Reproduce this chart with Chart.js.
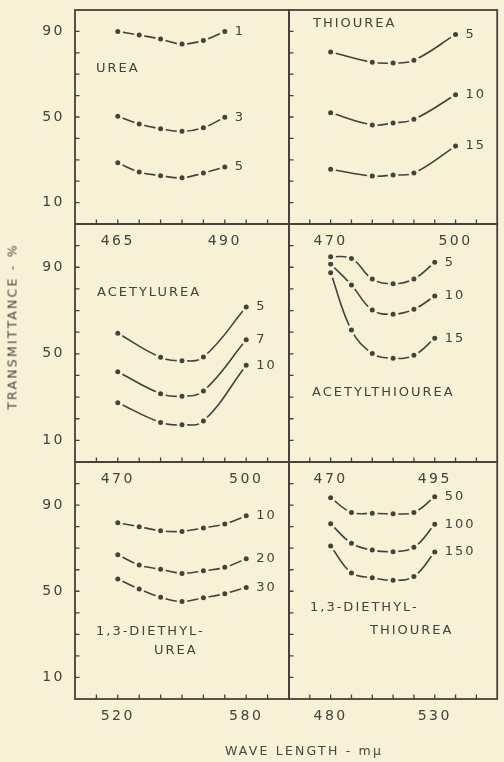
<!DOCTYPE html>
<html>
<head>
<meta charset="utf-8">
<script src="https://cdn.jsdelivr.net/npm/chart.js@4.4.1/dist/chart.umd.min.js"></script>
<style>
  html, body { margin: 0; padding: 0; background: #f7f1d6; }
  #wrap { position: relative; width: 504px; height: 762px; overflow: hidden; }
  #wrap canvas { position: absolute; left: 0; top: 0; }
  .axt { position: absolute; font-family: 'DejaVu Sans'; font-size: 12.5px; letter-spacing: 2.2px; color: #4a4540; text-align: center; white-space: nowrap; }
  #ytitle { left: -88px; top: 319px; width: 200px; transform: rotate(-90deg); }
  #xtitle { left: 154px; top: 743px; width: 300px; }
</style>
</head>
<body>
<div id="wrap">
  <canvas id="c0" width="504" height="762"></canvas>
  <canvas id="c1" width="504" height="762"></canvas>
  <canvas id="c2" width="504" height="762"></canvas>
  <canvas id="c3" width="504" height="762"></canvas>
  <canvas id="c4" width="504" height="762"></canvas>
  <canvas id="c5" width="504" height="762"></canvas>
  <div class="axt" id="ytitle">TRANSMITTANCE - %</div>
  <div class="axt" id="xtitle">WAVE LENGTH - mμ</div>
</div>
<script>
// wave length (mu) and transmittance (%)
const ureaWave = [465, 470, 475, 480, 485, 490];
const urea1 = [90, 88.3, 86.4, 84.1, 85.8, 90];
const urea3 = [50.3, 46.7, 44.5, 43.3, 45.0, 49.9];
const urea5 = [28.6, 24.3, 22.6, 21.6, 23.8, 26.6];

const thioWave = [470, 480, 485, 490, 500];
const thio5 = [80.4, 75.6, 75.2, 76.5, 88.6];
const thio10 = [52.0, 46.3, 47.2, 48.9, 60.4];
const thio15 = [25.6, 22.4, 22.9, 23.8, 36.4];

const acetWave = [470, 480, 485, 490, 500];
const acet5 = [59.5, 48.4, 46.8, 48.5, 71.6];
const acet7 = [41.7, 31.6, 30.4, 32.8, 56.5];
const acet10 = [27.4, 18.3, 17.2, 18.9, 44.7];

const acthWave = [470, 475, 480, 485, 490, 495];
const acth5 = [94.9, 94.1, 84.6, 82.4, 84.6, 92.3];
const acth10 = [91.5, 81.8, 70.2, 68.3, 70.6, 76.7];
const acth15 = [87.5, 61.0, 50.2, 47.9, 49.3, 57.2];

const deuWave = [520, 530, 540, 550, 560, 570, 580];
const deu10 = [81.8, 80.0, 78.1, 77.8, 79.4, 81.2, 85.1];
const deu20 = [67.0, 62.2, 60.2, 58.3, 59.5, 61.1, 65.1];
const deu30 = [55.7, 51.0, 47.2, 45.2, 47.0, 48.9, 51.8];

const detWave = [480, 490, 500, 510, 520, 530];
const det50 = [93.4, 86.6, 86.2, 86.0, 86.6, 93.9];
const det100 = [81.3, 72.3, 69.1, 68.4, 70.4, 81.1];
const det150 = [71.0, 58.5, 56.3, 55.1, 56.9, 68.2];

const yTickLabels = [10, 50, 90];

const ink = '#46413c';
const paper = '#f7f1d6';
const face = 'DejaVu Sans';
const yAxisW = 60;   // room kept for the y labels
const xAxisH = 30;   // room kept for the x labels

const panels = [
  { id: 'c0', box: [75, 10, 289, 224], x: [455, 505, 5], yMax: 100, xLabels: [465, 490], yLabels: true,
    wave: ureaWave, series: [urea1, urea3, urea5], tags: ['1', '3', '5'], names: [['UREA', 21, 59]] },
  { id: 'c1', box: [289, 10, 503, 224], x: [460, 510, 5], yMax: 100, xLabels: [470, 500], yLabels: false,
    wave: thioWave, series: [thio5, thio10, thio15], tags: ['5', '10', '15'], names: [['THIOUREA', 24, 14]] },
  { id: 'c2', box: [75, 224, 289, 462], x: [460, 510, 5], yMax: 110, xLabels: [470, 500], yLabels: true,
    wave: acetWave, series: [acet5, acet7, acet10], tags: ['5', '7', '10'], names: [['ACETYLUREA', 22, 69]] },
  { id: 'c3', box: [289, 224, 503, 462], x: [460, 510, 5], yMax: 110, xLabels: [470, 495], yLabels: false,
    wave: acthWave, series: [acth5, acth10, acth15], tags: ['5', '10', '15'], names: [['ACETYLTHIOUREA', 23, 169]] },
  { id: 'c4', box: [75, 462, 289, 699], x: [500, 600, 10], yMax: 110, xLabels: [520, 580], yLabels: true,
    wave: deuWave, series: [deu10, deu20, deu30], tags: ['10', '20', '30'], names: [['1,3-DIETHYL-', 21, 170], ['UREA', 79, 189]] },
  { id: 'c5', box: [289, 462, 503, 699], x: [460, 560, 10], yMax: 110, xLabels: [480, 530], yLabels: false,
    wave: detWave, series: [det50, det100, det150], tags: ['50', '100', '150'], names: [['1,3-DIETHYL-', 21, 146], ['THIOUREA', 81, 169]] }
];

// boxes, inward tick marks, curve numbers and compound names
const panelPlugin = {
  id: 'panel',
  beforeDraw(chart) {
    chart.ctx.letterSpacing = '2.5px';
  },
  afterDraw(chart) {
    const p = chart.options.plugins.panel;
    const ctx = chart.ctx;
    const a = chart.chartArea;
    ctx.save();
    ctx.strokeStyle = ink;
    ctx.lineWidth = 1.8;
    ctx.strokeRect(a.left, a.top, a.right - a.left, a.bottom - a.top);
    ctx.lineWidth = 1.3;
    ctx.beginPath();
    const xs = chart.scales.x, ys = chart.scales.y;
    xs.ticks.forEach(t => {
      if (t.value <= xs.min || t.value >= xs.max) return;
      const px = xs.getPixelForValue(t.value);
      ctx.moveTo(px, a.bottom); ctx.lineTo(px, a.bottom - 4.5);
    });
    ys.ticks.forEach(t => {
      if (t.value <= ys.min || t.value >= ys.max) return;
      const py = ys.getPixelForValue(t.value);
      ctx.moveTo(a.left, py); ctx.lineTo(a.left + 4.5, py);
    });
    ctx.stroke();

    ctx.fillStyle = ink;
    ctx.textBaseline = 'middle';
    ctx.textAlign = 'left';
    ctx.letterSpacing = '2px';
    ctx.font = '13px "' + face + '"';
    chart.data.datasets.forEach((ds, i) => {
      const pts = chart.getDatasetMeta(i).data;
      const last = pts[pts.length - 1];
      ctx.fillText(ds.label, last.x + 10, last.y);
    });
    p.names.forEach(n => ctx.fillText(n[0], a.left + n[1], a.top + n[2]));
    ctx.restore();
  }
};

function makePanel(p) {
  const [L, T, R, B] = p.box;
  const yw = p.yLabels ? yAxisW : 0;
  new Chart(document.getElementById(p.id), {
    type: 'line',
    data: {
      datasets: p.series.map((s, i) => ({
        label: p.tags[i],
        data: s.map((v, j) => ({ x: p.wave[j], y: v })),
        borderColor: ink,
        borderWidth: 1.6,
        tension: 0.4,
        fill: false,
        pointRadius: 3.9,
        pointBorderWidth: 2.8,
        pointBackgroundColor: ink,
        pointBorderColor: paper
      }))
    },
    options: {
      responsive: false,
      animation: false,
      events: [],
      layout: { padding: { left: L - yw, top: T, right: 504 - R, bottom: 762 - B - xAxisH } },
      plugins: {
        legend: { display: false },
        tooltip: { enabled: false },
        panel: { names: p.names }
      },
      scales: {
        x: {
          type: 'linear', min: p.x[0], max: p.x[1],
          grid: { display: false, drawTicks: false },
          border: { display: false },
          ticks: {
            stepSize: p.x[2], autoSkip: false, maxRotation: 0, padding: 9, color: ink,
            font: { family: face, size: 14 },
            callback: v => p.xLabels.includes(v) ? String(v) : ''
          },
          afterFit: s => { s.height = xAxisH; s.paddingLeft = 0; s.paddingRight = 0; }
        },
        y: {
          type: 'linear', min: 0, max: p.yMax,
          grid: { display: false, drawTicks: false },
          border: { display: false },
          ticks: {
            display: p.yLabels, stepSize: 10, autoSkip: false, padding: 10, color: ink,
            font: { family: face, size: 14 },
            callback: v => yTickLabels.includes(v) ? String(v) : ''
          },
          afterFit: s => { s.width = yw; s.paddingTop = 0; s.paddingBottom = 0; }
        }
      }
    },
    plugins: [panelPlugin]
  });
}

panels.forEach(makePanel);
</script>
</body>
</html>
